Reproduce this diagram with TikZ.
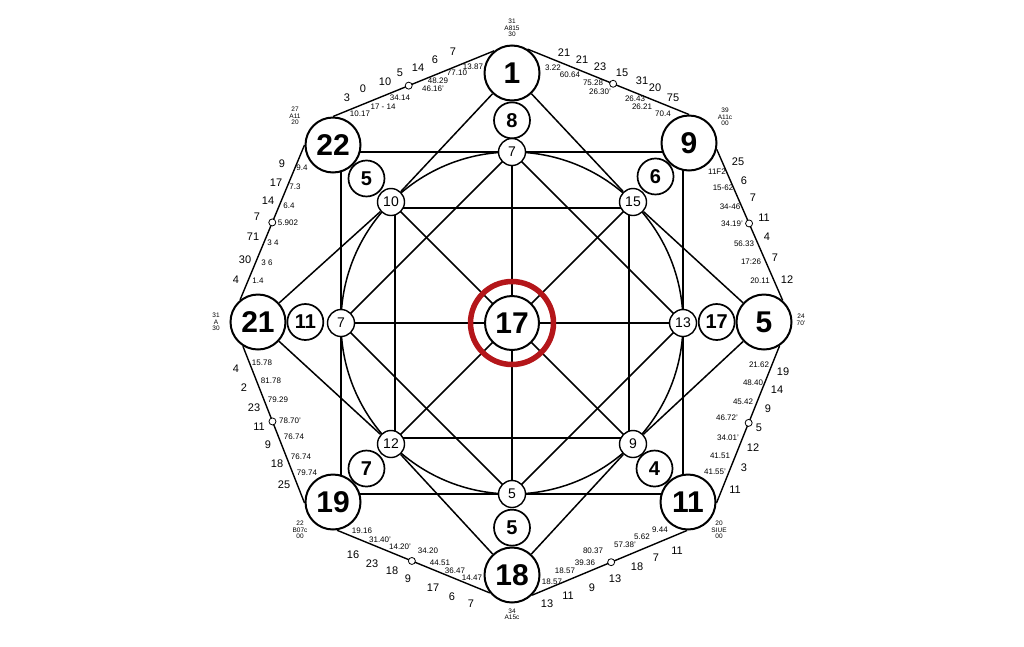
\documentclass[tikz,border=0pt]{standalone}
\usepackage{fontspec}
\setmainfont{Liberation Sans}
\usepackage{tikz}
\usetikzlibrary{positioning,backgrounds}
\definecolor{ringred}{RGB}{180,22,26}

\begin{document}
\begin{tikzpicture}[x = 1pt, y = -1pt,
    every node/.style = { align = center },
    bigring/.style = { draw, circle, fill = white, line width = 2pt, minimum size = 55pt, inner sep = 0pt, font = \fontsize{30}{30}\selectfont\bfseries },
    midring/.style = { draw, circle, fill = white, line width = 1.7pt, minimum size = 36pt, inner sep = 0pt, font = \fontsize{20}{20}\selectfont\bfseries },
    smallring/.style = { draw, circle, fill = white, line width = 1.4pt, minimum size = 27pt, inner sep = 0pt, font = \fontsize{14}{14}\selectfont },
    hub/.style = { draw, circle, fill = white, line width = 2pt, minimum size = 54pt, inner sep = 0pt, font = \fontsize{30}{30}\selectfont\bfseries },
    num/.style = { inner sep = 0pt, font = \fontsize{11}{11}\selectfont },
    dec/.style = { inner sep = 0pt, font = \fontsize{8}{8}\selectfont },
    tag/.style = { inner sep = 0pt, font = \fontsize{6.5}{6.5}\selectfont },
    hole/.style = { draw, circle, fill = white, line width = .8pt, minimum size = 7pt, inner sep = 0pt },
    rim/.style = { line width = 1.4pt },
    web/.style = { line width = 1.5pt }]

  \useasboundingbox (0,0) rectangle (1024,646);

  % outer ring of numbers
  \node[bigring] (o1) at (512,73) {1};
  \node[bigring] (o9) at (689,143) {9};
  \node[bigring] (o5) at (764,322) {5};
  \node[bigring] (o11) at (688,502) {11};
  \node[bigring] (o18) at (512,575) {18};
  \node[bigring] (o19) at (333,502) {19};
  \node[bigring] (o21) at (258,322) {21};
  \node[bigring] (o22) at (333,145) {22};

  % the ones in between
  \node[midring, below = 0pt of o1] (m8) {8};
  \node[midring, below left = 0pt of o9] (m6) {6};
  \node[midring, left = 0pt of o5] (m17) {17};
  \node[midring, above left = 0pt of o11] (m4) {4};
  \node[midring, above = 0pt of o18] (m5b) {5};
  \node[midring, above right = 0pt of o19] (m7) {7};
  \node[midring, right = 0pt of o21] (m11) {11};
  \node[midring, below right = 0pt of o22] (m5) {5};

  % on the circle
  \node[smallring] (s7t) at (512,152) {7};
  \node[smallring] (s15) at (633,202) {15};
  \node[smallring] (s13) at (683,323) {13};
  \node[smallring] (s9) at (633,444) {9};
  \node[smallring] (s5) at (512,494) {5};
  \node[smallring] (s12) at (391,444) {12};
  \node[smallring] (s7l) at (341,323) {7};
  \node[smallring] (s10) at (391,202) {10};

  \node[hub] (c17) at (512,323) {17};
  \node[draw = ringred, circle, line width = 5.5pt, minimum size = 83pt] (ring) at (c17) {};

  \begin{scope}[on background layer]
    \draw[web] (c17) circle [radius = 171pt];
    \draw[web] (s7l |- s7t) -- (s13 |- s7t) -- (s13 |- s5) -- (s7l |- s5) -- cycle;
    \draw[web] ([shift = {(4,6)}] s10.center) -- ([shift = {(-4,6)}] s15.center) -- ([shift = {(-4,-6)}] s9.center) -- ([shift = {(4,-6)}] s12.center) -- cycle;
    \draw[web] (s7t.center) -- (s13.center) -- (s5.center) -- (s7l.center) -- cycle;
    \draw[web] (s7t.center) -- (s5.center) (s7l.center) -- (s13.center);
    \draw[web] (s10.center) -- (s9.center) (s15.center) -- (s12.center);
    \draw[web] (o1) -- (s10) (o1) -- (s15);
    \draw[web] (o21) -- (s10) (o21) -- (s12);
    \draw[web] (o18) -- (s12) (o18) -- (s9);
    \draw[web] (o5) -- (s15) (o5) -- (s9);
  \end{scope}

  % the octagon
  \draw[rim] (o1.129) -- node[hole, pos = .53] (h1) {} (o22.90);
  \draw[rim] (o1.57) -- node[hole, pos = .53] (h2) {} (o9.90);
  \draw[rim] (o22.180) -- node[hole, pos = .5] (h3) {} (o21.129);
  \draw[rim] (o9.347) -- node[hole, pos = .49] (h4) {} (o5.49);
  \draw[rim] (o21.238) -- node[hole, pos = .48] (h5) {} (o19.182);
  \draw[rim] (o5.303) -- node[hole, pos = .49] (h6) {} (o11.358);
  \draw[rim] (o19.278) -- node[hole, pos = .49] (h7) {} (o18.219);
  \draw[rim] (o18.315) -- node[hole, pos = .51] (h8) {} (o11.268);

  % corner tags
  \node[tag] (t1) at (512,28) {31\\A815\\30};
  \node[tag] (t2) at (295,116) {27\\A11\\20};
  \node[tag] (t3) at (725,117) {39\\A11c\\00};
  \node[tag] (t4) at (216,322) {31\\A\\30};
  \node[tag] (t5) at (801,320) {24\\70'};
  \node[tag] (t6) at (300,530) {22\\B07c\\00};
  \node[tag] (t7) at (719,530) {20\\SIUE\\00};
  \node[tag] (t8) at (512,614) {34\\A15c};

  % top left side
  \node[num] (a1) at (453,52) {7};   \node[num] (a2) at (435,60) {6};  \node[num] (a3) at (418,68) {14};
  \node[num] (a4) at (400,73) {5};   \node[num] (a5) at (385,82) {10}; \node[num] (a6) at (363,89) {0};
  \node[num] (a7) at (347,98) {3};
  \node[dec] (a8) at (473,67) {13.87};  \node[dec] (a9) at (457,73) {77.10};  \node[dec] (a10) at (438,81) {48.29};
  \node[dec] (a11) at (433,89) {46.16'}; \node[dec] (a12) at (400,98) {34.14}; \node[dec] (a13) at (383,107) {17 - 14};
  \node[dec] (a14) at (360,114) {10.17};

  % top right side
  \node[num] (b1) at (564,53) {21};  \node[num] (b2) at (582,60) {21}; \node[num] (b3) at (600,67) {23};
  \node[num] (b4) at (622,73) {15};  \node[num] (b5) at (642,81) {31}; \node[num] (b6) at (655,88) {20};
  \node[num] (b7) at (673,98) {75};
  \node[dec] (b8) at (553,68) {3.22};   \node[dec] (b9) at (570,75) {60.64};   \node[dec] (b10) at (593,83) {75.28};
  \node[dec] (b11) at (600,92) {26.30'}; \node[dec] (b12) at (635,99) {26.43};  \node[dec] (b13) at (642,107) {26.21};
  \node[dec] (b14) at (663,114) {70.4};

  % left upper side
  \node[num] (c1) at (282,164) {9};  \node[num] (c2) at (276,183) {17}; \node[num] (c3) at (268,201) {14};
  \node[num] (c4) at (257,217) {7};  \node[num] (c5) at (253,237) {71}; \node[num] (c6) at (245,260) {30};
  \node[num] (c7) at (236,280) {4};
  \node[dec] (c8) at (302,168) {9.4};   \node[dec] (c9) at (295,187) {7.3};  \node[dec] (c10) at (289,206) {6.4};
  \node[dec] (c11) at (288,223) {5.902}; \node[dec] (c12) at (273,243) {3 4}; \node[dec] (c13) at (267,263) {3 6};
  \node[dec] (c14) at (258,281) {1.4};

  % right upper side
  \node[num] (d1) at (738,162) {25}; \node[num] (d2) at (744,181) {6};  \node[num] (d3) at (753,198) {7};
  \node[num] (d4) at (764,218) {11}; \node[num] (d5) at (767,237) {4};  \node[num] (d6) at (775,258) {7};
  \node[num] (d7) at (787,280) {12};
  \node[dec] (d8) at (717,172) {11F2};   \node[dec] (d9) at (723,188) {15-62};  \node[dec] (d10) at (730,207) {34-46};
  \node[dec] (d11) at (732,224) {34.19'}; \node[dec] (d12) at (744,244) {56.33}; \node[dec] (d13) at (751,262) {17:26};
  \node[dec] (d14) at (760,281) {20.11};

  % left lower side
  \node[num] (e1) at (236,369) {4};  \node[num] (e2) at (244,388) {2};  \node[num] (e3) at (254,408) {23};
  \node[num] (e4) at (259,427) {11}; \node[num] (e5) at (268,445) {9};  \node[num] (e6) at (277,464) {18};
  \node[num] (e7) at (284,485) {25};
  \node[dec] (e8) at (262,363) {15.78};   \node[dec] (e9) at (271,381) {81.78};  \node[dec] (e10) at (278,400) {79.29};
  \node[dec] (e11) at (290,421) {78.70'}; \node[dec] (e12) at (294,437) {76.74}; \node[dec] (e13) at (301,457) {76.74};
  \node[dec] (e14) at (307,473) {79.74};

  % right lower side
  \node[num] (f1) at (783,372) {19}; \node[num] (f2) at (777,390) {14}; \node[num] (f3) at (768,409) {9};
  \node[num] (f4) at (759,428) {5};  \node[num] (f5) at (753,448) {12}; \node[num] (f6) at (744,468) {3};
  \node[num] (f7) at (735,490) {11};
  \node[dec] (f8) at (759,365) {21.62};   \node[dec] (f9) at (753,383) {48.40};   \node[dec] (f10) at (743,402) {45.42};
  \node[dec] (f11) at (727,418) {46.72'}; \node[dec] (f12) at (728,438) {34.01'}; \node[dec] (f13) at (720,456) {41.51};
  \node[dec] (f14) at (715,472) {41.55'};

  % bottom left side
  \node[num] (g1) at (353,555) {16}; \node[num] (g2) at (372,564) {23}; \node[num] (g3) at (392,571) {18};
  \node[num] (g4) at (408,579) {9};  \node[num] (g5) at (433,588) {17}; \node[num] (g6) at (452,597) {6};
  \node[num] (g7) at (471,604) {7};
  \node[dec] (g8) at (362,531) {19.16};  \node[dec] (g9) at (380,540) {31.40'}; \node[dec] (g10) at (400,547) {14.20'};
  \node[dec] (g11) at (428,551) {34.20}; \node[dec] (g12) at (440,563) {44.51};  \node[dec] (g13) at (455,571) {36.47};
  \node[dec] (g14) at (472,578) {14.47};

  % bottom right side
  \node[num] (k1) at (547,604) {13}; \node[num] (k2) at (568,596) {11}; \node[num] (k3) at (592,588) {9};
  \node[num] (k4) at (615,579) {13}; \node[num] (k5) at (637,567) {18}; \node[num] (k6) at (656,558) {7};
  \node[num] (k7) at (677,551) {11};
  \node[dec] (k8) at (552,582) {18.57};  \node[dec] (k9) at (565,571) {18.57};  \node[dec] (k10) at (585,563) {39.36};
  \node[dec] (k11) at (593,551) {80.37}; \node[dec] (k12) at (625,545) {57.38'}; \node[dec] (k13) at (642,537) {5.62};
  \node[dec] (k14) at (660,530) {9.44};

\end{tikzpicture}
\end{document}
